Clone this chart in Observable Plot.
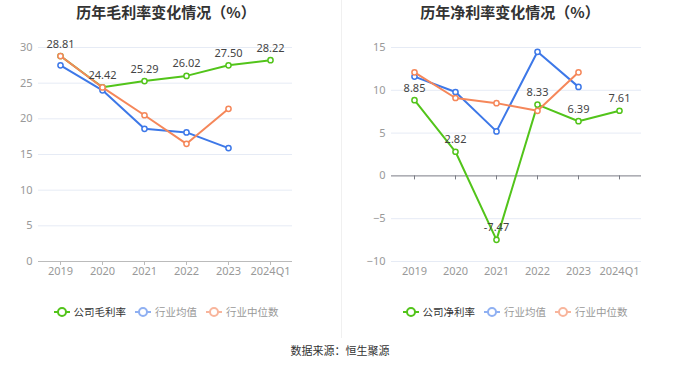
<!DOCTYPE html>
<html><head><meta charset="utf-8">
<script src="https://cdn.jsdelivr.net/npm/d3@7"></script>
<script src="https://cdn.jsdelivr.net/npm/@observablehq/plot@0.6"></script>
<style>
body{margin:0;background:#fff;font-family:"Noto Sans","Noto Sans CJK SC",sans-serif;}
#wrap{position:relative;width:680px;height:367px;overflow:hidden;background:#fff;}
.title{position:absolute;top:1px;width:340px;text-align:center;font-size:15px;font-weight:bold;color:#333;font-family:"Noto Sans CJK SC",sans-serif;}
.chart{position:absolute;top:30px;}
.legend{position:absolute;top:304px;width:340px;display:flex;justify-content:center;gap:9px;font-size:10.5px;font-family:"Noto Sans CJK SC",sans-serif;}
.legend span{display:flex;align-items:center;gap:4px;}
#divider{position:absolute;left:341px;top:0;width:1px;height:338px;background:#f0f0f0;}
#caption{position:absolute;top:342px;width:680px;text-align:center;font-size:11px;color:#333;font-family:"Noto Sans CJK SC",sans-serif;}
</style></head>
<body><div id="wrap">
<div id="divider"></div>
<div class="title" style="left:-4px">历年毛利率变化情况（%）</div>
<div class="title" style="left:340px">历年净利率变化情况（%）</div>
<div class="chart" id="c1" style="left:0"></div>
<div class="chart" id="c2" style="left:340px"></div>
<div class="legend" id="l1" style="left:-4px"></div>
<div class="legend" id="l2" style="left:345px"></div>
<div id="caption">数据来源：恒生聚源</div>
</div>
<script>
const years = ["2019","2020","2021","2022","2023","2024Q1"];
const seriesNamesGross = ["公司毛利率","行业均值","行业中位数"];
const seriesNamesNet = ["公司净利率","行业均值","行业中位数"];
const colors = ["#52c41a","#3d78e8","#f5875a"];
const legendColors = ["#52c41a","#8fb0f2","#f8b59c"];
const legendText = ["#333","#999","#999"];

const grossCompany = [28.81,24.42,25.29,26.02,27.50,28.22];
const grossAvg = [27.5,24.0,18.6,18.1,15.9];
const grossMedian = [28.8,24.4,20.5,16.5,21.4];

const netCompany = [8.85,2.82,-7.47,8.33,6.39,7.61];
const netAvg = [11.6,9.8,5.2,14.5,10.4];
const netMedian = [12.1,9.1,8.5,7.6,12.1];

const grossTicks = [0,5,10,15,20,25,30];
const netTicks = [-10,-5,0,5,10,15];

function rows(vals, s){ return vals.map((v,i)=>({year:years[i], value:v, s})); }

function chart(series, ticks, domain, ml, mr, axisColor){
  const lineMarks = [];
  series.forEach((d,i)=>{
    lineMarks.push(Plot.line(d,{x:"year",y:"value",stroke:colors[i],strokeWidth:2}));
    lineMarks.push(Plot.dot(d,{x:"year",y:"value",r:2.6,fill:"#fff",stroke:colors[i],strokeWidth:1.5}));
  });
  return Plot.plot({
    width:340,height:250,
    marginTop:17,marginBottom:19,marginLeft:ml,marginRight:mr,
    style:{fontSize:"11px",color:"#999",fontFamily:"'Noto Sans',sans-serif",background:"transparent"},
    x:{type:"point",domain:years,padding:0.5,label:null,tickSize:0,tickPadding:6},
    y:{domain,ticks,label:null,tickSize:0,tickPadding:6},
    marks:[
      Plot.ruleY(ticks.filter(t=>t!==0),{stroke:"#e6ebf5",strokeWidth:1}),
      Plot.ruleY([0],{stroke:axisColor,strokeWidth:1}),
      Plot.ruleX(years,{x:d=>d,y1:0,y2:0,insetTop:0,insetBottom:-4,stroke:axisColor,strokeWidth:1}),
      ...lineMarks,
      Plot.text(series[0],{x:"year",y:"value",text:d=>d.value.toFixed(2),dy:-12,fill:"#444",fontSize:11})
    ]
  });
}

document.getElementById("c1").append(chart(
  [rows(grossCompany,0),rows(grossAvg,1),rows(grossMedian,2)], grossTicks,[0,30],38,48,"#bbb"));
document.getElementById("c2").append(chart(
  [rows(netCompany,0),rows(netAvg,1),rows(netMedian,2)], netTicks,[-10,15],51,39,"#7a7c85"));

function legend(id,names){
  const el=document.getElementById(id);
  names.forEach((n,i)=>{
    const s=document.createElement("span");
    s.innerHTML=`<svg width="16" height="10"><line x1="0" y1="5" x2="16" y2="5" stroke="${legendColors[i]}" stroke-width="2"/><circle cx="8" cy="5" r="4" fill="#fff" stroke="${legendColors[i]}" stroke-width="2"/></svg><span style="color:${legendText[i]}">${n}</span>`;
    el.append(s);
  });
}
legend("l1",seriesNamesGross);
legend("l2",seriesNamesNet);
</script>
</body></html>
